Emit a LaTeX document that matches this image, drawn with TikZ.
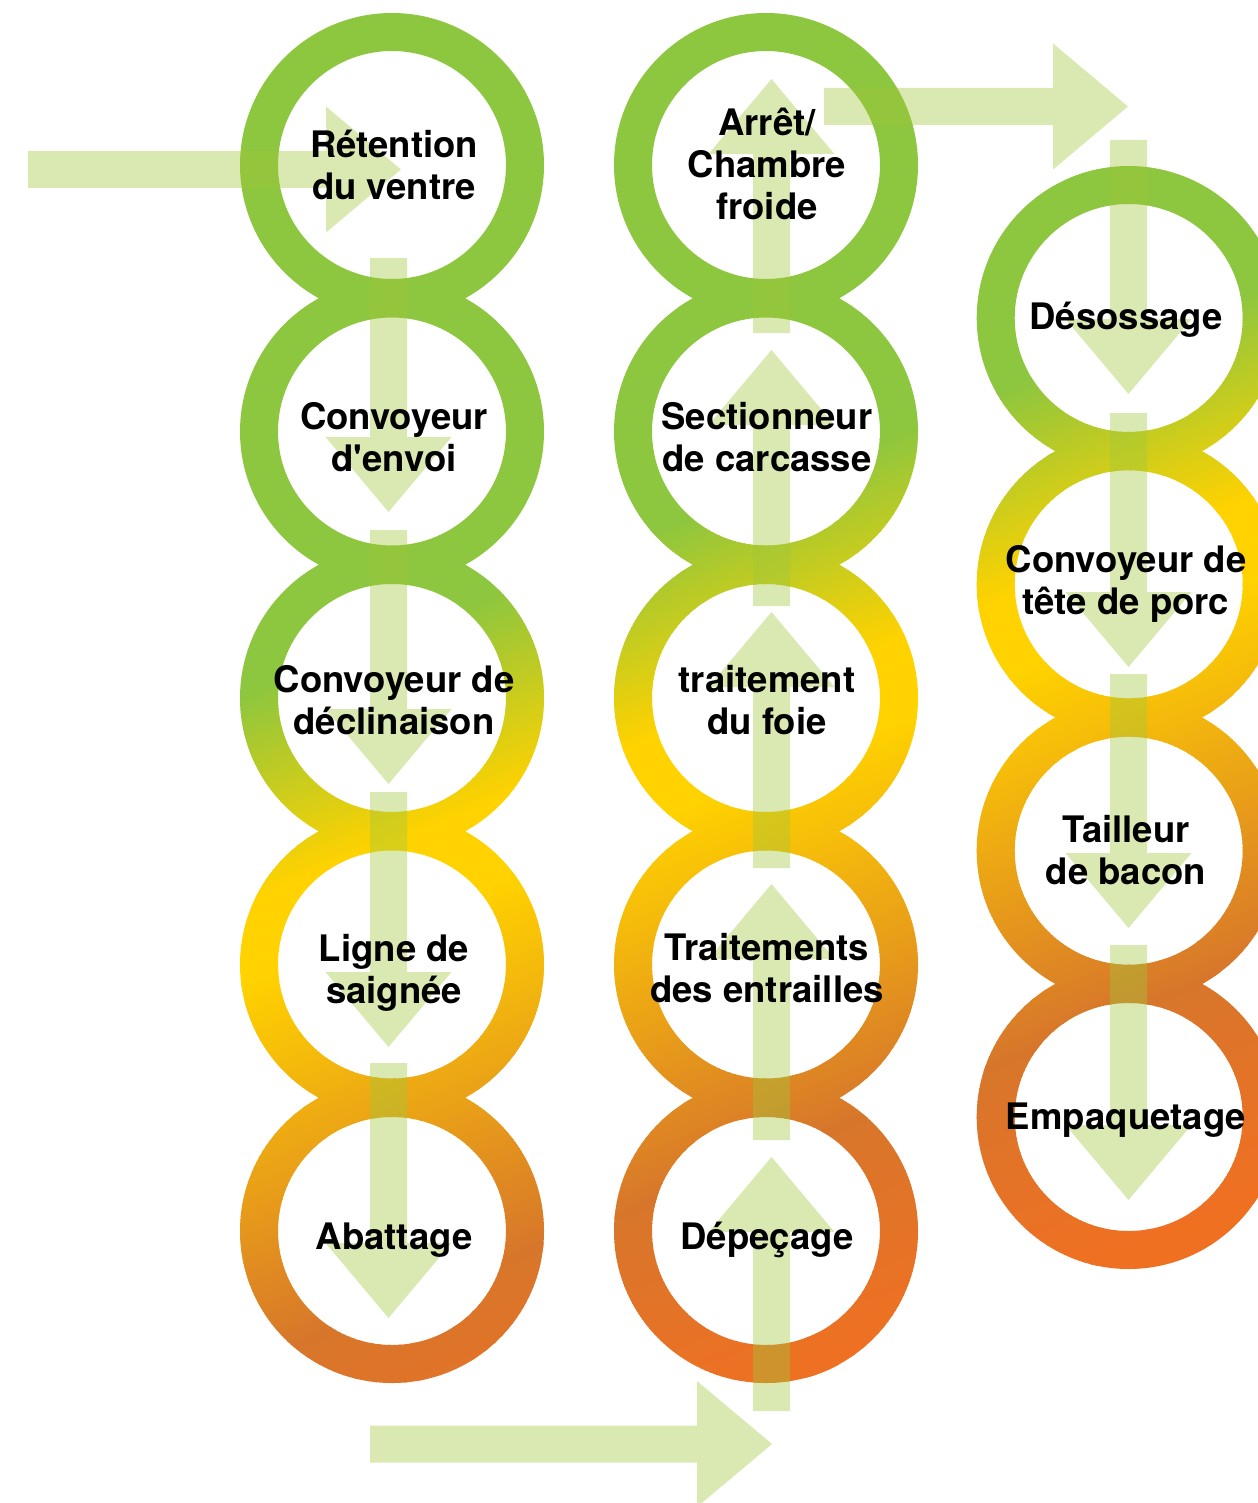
\documentclass[tikz,border=0pt]{standalone}
\usepackage{fontspec}
\setmainfont{TeX Gyre Heros}
\usetikzlibrary{calc}
\definecolor{rgreen}{RGB}{141,198,63}
\definecolor{ryellow}{RGB}{255,210,0}
\definecolor{rbrown}{RGB}{215,118,43}
\definecolor{rred}{RGB}{240,112,34}
\definecolor{arrowgreen}{RGB}{160,200,60}
\newcommand\fatarrow[2]{%
  \coordinate (fah) at ($(#2)!75pt!(#1)$);
  \fill[flowarrow] ($(#1)!18.5pt!90:(#2)$) -- ($(fah)!18.5pt!90:(#2)$) -- ($(fah)!63pt!90:(#2)$) -- (#2)
     -- ($(fah)!63pt!-90:(#2)$) -- ($(fah)!18.5pt!-90:(#2)$) -- ($(#1)!18.5pt!-90:(#2)$) -- cycle;}
\newcommand\gstrip[3]{\fill[#3] (200,#1-80) -- (1300,#1-520) -- (1300,#2-520) -- (200,#2-80) -- cycle;}
\begin{document}
\begin{tikzpicture}[x=1pt,y=-1pt,
  flowarrow/.style={fill=arrowgreen, fill opacity=0.4},
  steptext/.style={font=\bfseries\fontsize{36.5}{42}\selectfont, align=center, inner sep=0pt, text=black, yshift=-2.5pt}]
\useasboundingbox (0,0) rectangle (1257,1503);
% ring centres
\foreach \n/\x/\y in {c11/392/165, c12/392/431.5, c13/392/698, c14/392/964.5, c15/392/1231,
                      c21/766/165, c22/766/431.5, c23/766/698, c24/766/964.5, c25/766/1231,
                      c31/1128.7/318, c32/1128.7/584.3, c33/1128.7/850.7, c34/1128.7/1117}
  \coordinate (\n) at (\x,\y);
% rings with one global gradient
\begin{scope}
\clip \foreach \r in {c11,c12,c13,c14,c15,c21,c22,c23,c24,c25,c31,c32,c33,c34}
   {($(\r)+(152,0)$) arc[start angle=0,end angle=360,radius=152]
    ($(\r)+(114,0)$) arc[start angle=0,end angle=-360,radius=114]};
\gstrip{0}{792}{rgreen}
\foreach \i in {0,...,69}{
  \pgfmathsetmacro\sa{790+3*\i}\pgfmathsetmacro\sb{\sa+4}\pgfmathsetmacro\pp{100*\i/69}
  \gstrip{\sa}{\sb}{ryellow!\pp!rgreen}}
\gstrip{998}{1083}{ryellow}
\foreach \i in {0,...,95}{
  \pgfmathsetmacro\sa{1080+4*\i}\pgfmathsetmacro\sb{\sa+5}\pgfmathsetmacro\pp{100*\i/95}
  \gstrip{\sa}{\sb}{rbrown!\pp!ryellow}}
\foreach \i in {0,...,60}{
  \pgfmathsetmacro\sa{1460+4*\i}\pgfmathsetmacro\sb{\sa+5}\pgfmathsetmacro\pp{100*\i/60}
  \gstrip{\sa}{\sb}{rred!\pp!rbrown}}
\gstrip{1700}{2500}{rred}
\end{scope}
% arrow end points
\foreach \n/\x/\y in {a0s/28/169.5, a0e/401/169.5,
   a1s/388.5/258, a1e/388.5/512, a2s/388.5/530, a2e/388.5/784,
   a3s/388.5/792, a3e/388.5/1047, a4s/388.5/1063, a4e/388.5/1318,
   a5s/370/1444, a5e/772/1444,
   a6s/771.5/1411, a6e/771.5/1157, a7s/771.5/1140, a7e/771.5/884,
   a8s/771.5/868, a8e/771.5/612, a9s/771.5/606, a9e/771.5/350,
   a10s/771.5/333, a10e/771.5/79,
   a11s/824/106.5, a11e/1128/106.5,
   a12s/1128.5/140, a12e/1128.5/394, a13s/1128.5/413, a13e/1128.5/667,
   a14s/1128.5/674, a14e/1128.5/928, a15s/1128.5/945, a15e/1128.5/1200}
  \coordinate (\n) at (\x,\y);
\foreach \k in {0,...,15} {\fatarrow{a\k s}{a\k e}}
% labels
\node[steptext] (t11) at (394,167.6) {\strut Rétention\\\strut du ventre};
\node[steptext] (t12) at (394,439.6) {\strut Convoyeur\\\strut d\textquotesingle envoi};
\node[steptext] (t13) at (394,702.6) {\strut Convoyeur de\\\strut déclinaison};
\node[steptext] (t14) at (394,971.6) {\strut Ligne de\\\strut saignée};
\node[steptext] (t15) at (394,1238.3) {\strut Abattage};
\node[steptext] (t21) at (767,166.9) {\strut Arrêt/\\\strut Chambre\\\strut froide};
\node[steptext] (t22) at (767,439.6) {\strut Sectionneur\\\strut de carcasse};
\node[steptext] (t23) at (767,702.6) {\strut traitement\\\strut du foie};
\node[steptext] (t24) at (767,970.9) {\strut Traitements\\\strut des entrailles};
\node[steptext] (t25) at (767,1238.3) {\strut Dépeçage};
\node[steptext] (t31) at (1126,318.3) {\strut Désossage};
\node[steptext] (t32) at (1126,582.6) {\strut Convoyeur de\\\strut tête de porc};
\node[steptext] (t33) at (1126,852.6) {\strut Tailleur\\\strut de bacon};
\node[steptext] (t34) at (1126,1118.3) {\strut Empaquetage};
\end{tikzpicture}
\end{document}
